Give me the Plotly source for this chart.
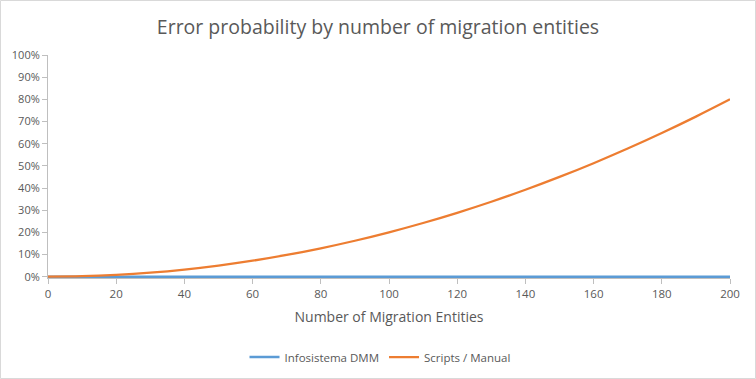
import plotly.graph_objects as go

entities = [0, 10, 20, 30, 40, 50, 60, 70, 80, 90, 100, 110, 120, 130, 140, 150, 160, 170, 180, 190, 200]
dmm_pct = [0, 0, 0, 0, 0, 0, 0, 0, 0, 0, 0, 0, 0, 0, 0, 0, 0, 0, 0, 0, 0]
manual_pct = [0, 0.2, 0.8, 1.8, 3.2, 5.0, 7.2, 9.8, 12.8, 16.2, 20.0, 24.2, 28.8, 33.8, 39.2, 45.0, 51.2, 57.8, 64.8, 72.2, 80.0]
x_ticks = [0, 20, 40, 60, 80, 100, 120, 140, 160, 180, 200]
y_ticks = [0, 10, 20, 30, 40, 50, 60, 70, 80, 90, 100]
y_tick_labels = ["0%", "10%", "20%", "30%", "40%", "50%", "60%", "70%", "80%", "90%", "100%"]

W, H = 756, 379
L, R, T, B = 48, 26, 55, 101
pw, ph = W - L - R, H - T - B

FONT = "Open Sans"
TXT = "#595959"
AX = "#bfbfbf"

fig = go.Figure()
fig.add_trace(go.Scatter(x=entities, y=dmm_pct, mode="lines", name="Infosistema DMM",
                         line=dict(color="#5b9bd5", width=2.5)))
fig.add_trace(go.Scatter(x=entities, y=manual_pct, mode="lines", name="Scripts / Manual",
                         line=dict(color="#ed7d31", width=2.25, shape="spline")))

fig.update_layout(
    width=W, height=H,
    margin=dict(l=L, r=R, t=T, b=B, autoexpand=False),
    paper_bgcolor="white", plot_bgcolor="white",
    font=dict(family=FONT, color=TXT, size=11),
    title=dict(text="Error probability by number of migration entities", x=0.5, xref="container",
               y=1 - 27 / H, yanchor="middle", font=dict(size=19.5, color=TXT, family=FONT)),
    showlegend=True,
    legend=dict(orientation="h", x=(380 - L) / pw, xanchor="center", y=(H - B - 357) / ph, yanchor="middle",
                font=dict(size=11.5, color=TXT), itemwidth=30),
    xaxis=dict(range=[0, 200], tickvals=x_ticks, showgrid=False, zeroline=False, automargin=False,
               showline=True, linecolor=AX, linewidth=1, ticks="outside", ticklen=5, tickcolor=AX,
               layer="below traces",
               title=dict(text="Number of Migration Entities", font=dict(size=14, color=TXT), standoff=12),
               tickfont=dict(size=11.5, color=TXT)),
    yaxis=dict(range=[-0.6, 100], tickvals=y_ticks, ticktext=y_tick_labels, showgrid=False, zeroline=False,
               automargin=False,
               showline=True, linecolor=AX, linewidth=1, ticks="outside", ticklen=5, tickcolor=AX,
               layer="below traces", tickfont=dict(size=11, color=TXT)),
    shapes=[dict(type="rect", xref="paper", yref="paper",
                 x0=(0.5 - L) / pw, x1=(W - 0.5 - L) / pw,
                 y0=(H - B - (H - 0.5)) / ph, y1=(H - B - 0.5) / ph,
                 line=dict(color="#d9d9d9", width=1), fillcolor="rgba(0,0,0,0)", layer="below")],
)

fig.write_html("out.html", config={"displayModeBar": False},
               post_script="document.body.style.margin='0px';document.body.style.overflow='hidden';")
